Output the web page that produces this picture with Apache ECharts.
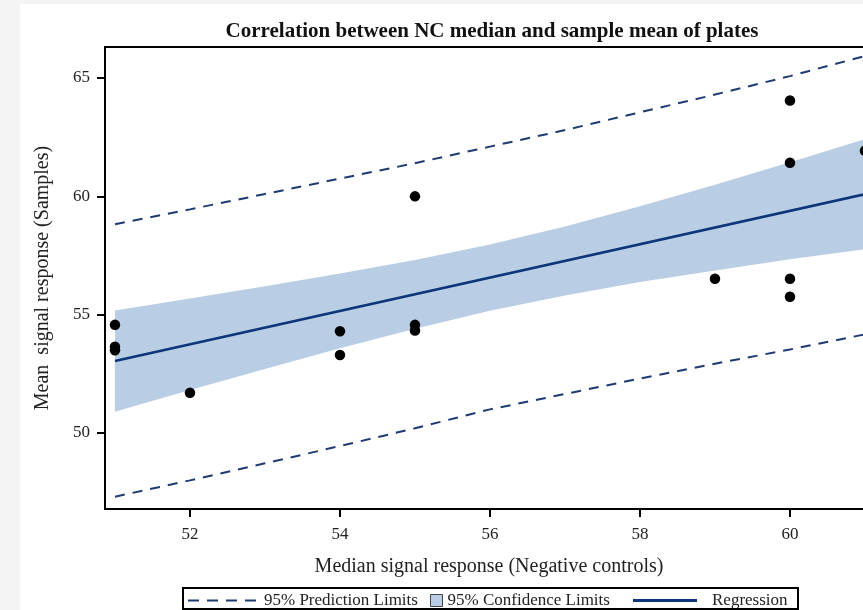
<!DOCTYPE html>
<html>
<head>
<meta charset="utf-8">
<script src="https://cdn.jsdelivr.net/npm/echarts@6/dist/echarts.min.js"></script>
<style>
html,body{margin:0;padding:0;background:#f4f4f4;}
#chart{width:863px;height:610px;}
</style>
</head>
<body>
<div id="chart"></div>
<script>
// Observed points
const obsX = [51, 51, 51, 52, 54, 54, 55, 55, 55, 59, 60, 60, 60, 60, 61];
const obsY = [54.57, 53.65, 53.5, 51.7, 54.3, 53.3, 60.0, 54.57, 54.33, 56.52, 64.05, 61.42, 56.52, 55.76, 61.93];

// Confidence band
const bandX = [51, 52, 53, 54, 55, 56, 57, 58, 59, 60, 61];
const bandUpper = [55.18, 55.68, 56.20, 56.74, 57.31, 57.97, 58.73, 59.58, 60.49, 61.44, 62.42];
const bandLower = [50.90, 51.82, 52.70, 53.58, 54.41, 55.17, 55.81, 56.38, 56.87, 57.34, 57.76];

// Prediction limits
const predUpper = [58.82, 59.45, 60.1, 60.75, 61.4, 62.1, 62.8, 63.55, 64.3, 65.08, 65.93];
const predLower = [47.31, 48.0, 48.72, 49.45, 50.2, 51.0, 51.65, 52.3, 52.93, 53.53, 54.17];

// Regression line
const regX = [51, 61];
const regY = [53.04, 60.09];

// Ticks
const xTicks = [52, 54, 56, 58, 60];
const yTicks = [50, 55, 60, 65];

const FONT = '"Liberation Serif", "DejaVu Serif", serif';
const pair = (xs, ys) => xs.map((x, i) => [x, ys[i]]);

const chart = echarts.init(document.getElementById('chart'), null, {renderer: 'canvas'});
chart.setOption({
  backgroundColor: '#f4f4f4',
  animation: false,
  title: {
    text: 'Correlation between NC median and sample mean of plates',
    left: 487, top: 16, textAlign: 'center',
    textStyle: {fontFamily: FONT, fontWeight: 'bold', fontSize: 21, color: '#111'}
  },
  graphic: {elements: [
    {type: 'rect', z: -100, shape: {x: 20, y: 4, width: 900, height: 620}, style: {fill: '#ffffff'}},
    {type: 'rect', z: 100, shape: {x: 183, y: 588, width: 615, height: 21}, style: {fill: 'none', stroke: '#000', lineWidth: 2}}
  ]},
  legend: [
    {data: [{name: '95% Prediction Limits', icon: 'path://M0,0h11v2h-11z M19,0h11v2h-11z M38,0h11v2h-11z M57,0h11v2h-11z'}],
     left: 188, top: 592, itemWidth: 68, itemHeight: 2, padding: 0, symbolKeepAspect: false,
     textStyle: {fontFamily: FONT, fontSize: 17, color: '#222', padding: [0, 0, 0, 3]}},
    {data: [{name: '95% Confidence Limits', icon: 'rect'}], left: 430, top: 592, itemWidth: 12, itemHeight: 12, padding: 0,
     itemStyle: {color: '#b9cde5', borderColor: '#444', borderWidth: 1},
     textStyle: {fontFamily: FONT, fontSize: 17, color: '#222'}},
    {data: [{name: 'Regression', icon: 'rect'}], left: 633, top: 592, itemWidth: 64, itemHeight: 3, padding: 0, symbolKeepAspect: false,
     textStyle: {fontFamily: FONT, fontSize: 17, color: '#222', padding: [0, 0, 0, 10]}}
  ],
  grid: {left: 105, top: 47, width: 768, bottom: 101, outerBoundsMode: 'none', containLabel: false,
         show: true, backgroundColor: '#fff', borderColor: '#000', borderWidth: 2},
  xAxis: {
    type: 'value', min: 50.867, max: 61.107,
    name: 'Median signal response (Negative controls)', nameLocation: 'middle', nameGap: 48,
    nameTextStyle: {fontFamily: FONT, fontSize: 20, color: '#222'},
    axisLine: {show: true, onZero: false, lineStyle: {color: '#000', width: 2}},
    axisTick: {show: true, length: 8, lineStyle: {color: '#000', width: 2}, customValues: xTicks},
    axisLabel: {fontFamily: FONT, fontSize: 17, color: '#222', margin: 17, customValues: xTicks},
    splitLine: {show: false}
  },
  yAxis: {
    type: 'value', min: 46.79, max: 66.31,
    name: 'Mean  signal response (Samples)', nameLocation: 'middle', nameGap: 52,
    nameTextStyle: {fontFamily: FONT, fontSize: 20, color: '#222'},
    axisLine: {show: true, onZero: false, lineStyle: {color: '#000', width: 2}},
    axisTick: {show: true, length: 8, lineStyle: {color: '#000', width: 2}, customValues: yTicks},
    axisLabel: {fontFamily: FONT, fontSize: 17, color: '#222', margin: 15, customValues: yTicks},
    splitLine: {show: false}
  },
  series: [
    {name: '95% Confidence Limits', type: 'custom', silent: true, z: 1,
     itemStyle: {color: '#b9cde5'},
     data: bandX.map((x, i) => [x, bandUpper[i], bandLower[i]]),
     encode: {x: 0, y: [1, 2]},
     renderItem: function (params, api) {
       if (params.dataIndex !== 0) return null;
       const pts = [];
       for (let i = 0; i < bandX.length; i++) pts.push(api.coord([bandX[i], bandUpper[i]]));
       for (let i = bandX.length - 1; i >= 0; i--) pts.push(api.coord([bandX[i], bandLower[i]]));
       return {type: 'polygon', shape: {points: pts}, style: {fill: '#b9cde5'}};
     }},
    {name: '95% Prediction Limits', type: 'line', symbol: 'none', data: pair(bandX, predUpper),
     itemStyle: {color: '#1d3b72'}, lineStyle: {color: '#1d3b72', width: 2, type: [10, 8]}, z: 3},
    {name: '95% Prediction Limits', type: 'line', symbol: 'none', data: pair(bandX, predLower),
     itemStyle: {color: '#1d3b72'}, lineStyle: {color: '#1d3b72', width: 2, type: [10, 8]}, z: 3},
    {name: 'Regression', type: 'line', symbol: 'none', data: pair(regX, regY),
     itemStyle: {color: '#0c357a'}, lineStyle: {color: '#0c357a', width: 2.5}, z: 4},
    {name: 'Observed', type: 'scatter', symbol: 'circle', symbolSize: 10.5, data: pair(obsX, obsY),
     itemStyle: {color: '#000', opacity: 1}, z: 5}
  ]
});
</script>
</body>
</html>
